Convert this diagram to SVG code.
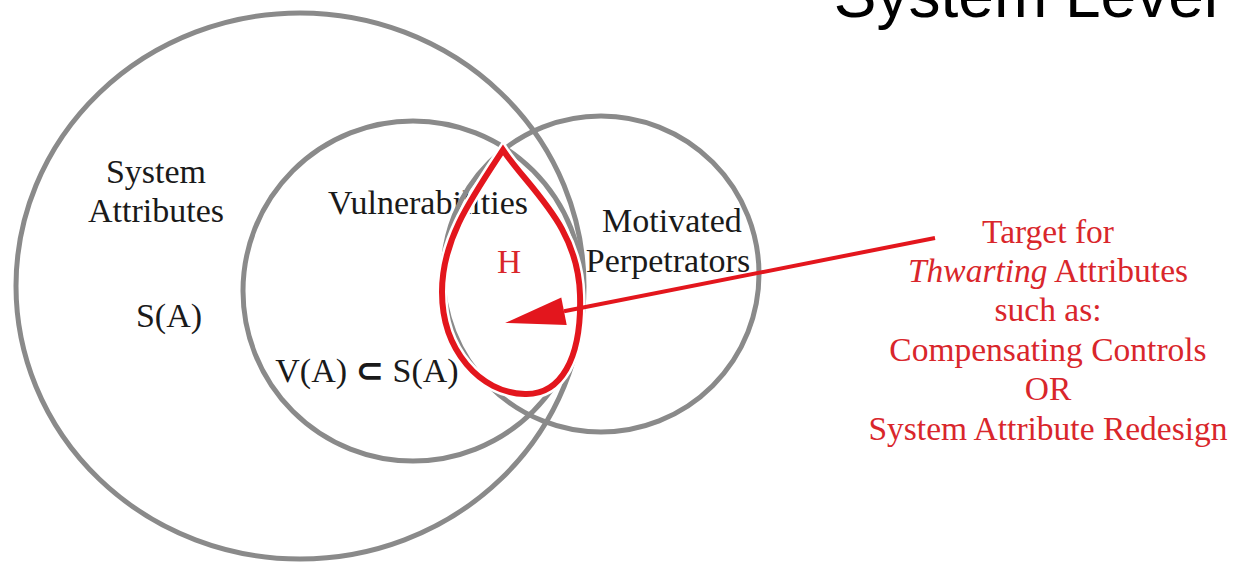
<svg xmlns="http://www.w3.org/2000/svg" width="1239" height="570" viewBox="0 0 1239 570">
<style>
.circ{fill:none;stroke:#8a8a8a;stroke-width:5}
.lbl{font-family:"Liberation Serif","Times New Roman",serif;font-size:34px;fill:#1a1a1a;text-anchor:middle}
.red{font-family:"Liberation Serif","Times New Roman",serif;font-size:33.5px;fill:#d9262b;text-anchor:middle}
.title{font-family:"Liberation Sans",Arial,sans-serif;font-size:64px;fill:#000;text-anchor:end}
</style>
<defs>
<marker id="arrow" markerUnits="userSpaceOnUse" markerWidth="64" markerHeight="32" refX="0" refY="14" orient="auto" overflow="visible">
<path d="M0,0 L60,14 L0,28 Z" fill="#e3161d"/>
</marker>
</defs>
<rect width="1239" height="570" fill="#fff"/>
<text class="title" x="1218" y="17">System Level</text>

<g id="system-attributes">
<ellipse class="circ" cx="300" cy="286" rx="284" ry="273" stroke="#959595"/>
<text class="lbl" x="156" y="183">System</text>
<text class="lbl" x="156" y="222">Attributes</text>
<text class="lbl" x="169" y="327">S(A)</text>
</g>

<g id="vulnerabilities">
<circle class="circ" cx="413" cy="291" r="170" stroke="#808080"/>
<text class="lbl" x="428" y="214">Vulnerabilities</text>
<text class="lbl" x="367" y="382">V(A) <tspan font-family="DejaVu Sans,sans-serif" font-weight="bold" font-size="34">⊂</tspan> S(A)</text>
</g>

<g id="motivated-perpetrators">
<circle class="circ" cx="601" cy="274" r="158" stroke="#808080"/>
<text class="lbl" x="672" y="232">Motivated</text>
<text class="lbl" x="668" y="272">Perpetrators</text>
</g>

<g id="h-region">
<path d="M503,150 C530,190 578,225 580,295 C582,360 560,395 525,394 C480,393 442,350 442,292 C442,240 470,200 503,150 Z" fill="none" stroke="#fff" stroke-width="11" stroke-linejoin="miter"/>
<path d="M503,150 C530,190 578,225 580,295 C582,360 560,395 525,394 C480,393 442,350 442,292 C442,240 470,200 503,150 Z" fill="none" stroke="#e3161d" stroke-width="6" stroke-linejoin="miter"/>
<text class="red" x="509" y="273" font-size="28">H</text>
</g>

<g id="connectors">
<line x1="935" y1="238" x2="564" y2="311.3" stroke="#e3161d" stroke-width="4" marker-end="url(#arrow)"/>
</g>

<g id="target-note">
<text class="red" x="1048" y="243">Target for</text>
<text class="red" x="1048" y="282"><tspan font-style="italic">Thwarting</tspan> Attributes</text>
<text class="red" x="1048" y="321">such as:</text>
<text class="red" x="1048" y="361">Compensating Controls</text>
<text class="red" x="1048" y="400">OR</text>
<text class="red" x="1048" y="440">System Attribute Redesign</text>
</g>
</svg>
